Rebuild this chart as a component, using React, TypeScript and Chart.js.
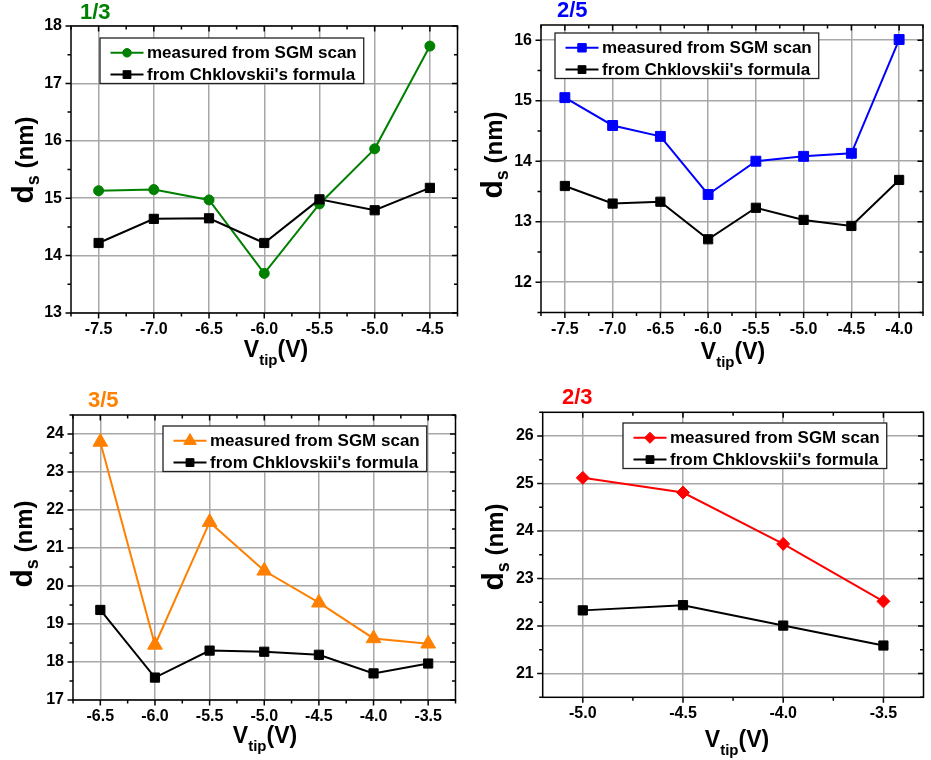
import React, { useEffect, useRef } from 'react';
import { Chart, registerables } from 'chart.js';

Chart.register(...registerables);

const FONT = '"Liberation Sans", Arial, Helvetica, sans-serif';

// ---------- data ----------
const legendMeasured = 'measured from SGM scan';
const legendFormula = "from Chklovskii's formula";

// Panel 1/3
const p1X = [-7.5, -7.0, -6.5, -6.0, -5.5, -5.0, -4.5];
const p1Measured = [15.13, 15.15, 14.97, 13.69, 14.9, 15.86, 17.65];
const p1Formula = [14.22, 14.64, 14.65, 14.22, 14.98, 14.79, 15.18];
const p1XTicks = [-7.5, -7.0, -6.5, -6.0, -5.5, -5.0, -4.5];
const p1YTicks = [13, 14, 15, 16, 17, 18];

// Panel 2/5
const p2X = [-7.5, -7.0, -6.5, -6.0, -5.5, -5.0, -4.5, -4.0];
const p2Measured = [15.05, 14.59, 14.41, 13.45, 14.0, 14.08, 14.13, 16.01];
const p2Formula = [13.59, 13.3, 13.33, 12.71, 13.23, 13.03, 12.93, 13.69];
const p2XTicks = [-7.5, -7.0, -6.5, -6.0, -5.5, -5.0, -4.5, -4.0];
const p2YTicks = [12, 13, 14, 15, 16];

// Panel 3/5
const p3X = [-6.5, -6.0, -5.5, -5.0, -4.5, -4.0, -3.5];
const p3Measured = [23.79, 18.45, 21.68, 20.4, 19.56, 18.62, 18.48];
const p3Formula = [19.37, 17.59, 18.3, 18.27, 18.19, 17.7, 17.96];
const p3XTicks = [-6.5, -6.0, -5.5, -5.0, -4.5, -4.0, -3.5];
const p3YTicks = [17, 18, 19, 20, 21, 22, 23, 24];

// Panel 2/3
const p4X = [-5.0, -4.5, -4.0, -3.5];
const p4Measured = [25.12, 24.81, 23.73, 22.52];
const p4Formula = [22.33, 22.44, 22.01, 21.59];
const p4XTicks = [-5.0, -4.5, -4.0, -3.5];
const p4YTicks = [21, 22, 23, 24, 25, 26];

// ---------- panel layout ----------
type PanelCfg = {
  key: string;
  left: number; top: number; w: number; h: number;
  area: { l: number; t: number; r: number; b: number };
  title: string; color: string; titleX: number; titleY: number;
  xMin: number; xMax: number; yMin: number; yMax: number;
  xTicks: number[]; yTicks: number[];
  xs: number[]; measured: number[]; formula: number[];
  marker: string; markerR: number;
  legendX: number; legendY: number;
  xTitleCx: number; xTitleY: number;
  yTitleX: number; yTitleCy: number;
};

const panels: PanelCfg[] = [
  {
    key: 'p1', left: 0, top: 0, w: 465, h: 380,
    area: { l: 71, t: 26, r: 460, b: 313 },
    title: '1/3', color: '#008000', titleX: 80, titleY: 18.5,
    xMin: -7.75, xMax: -4.25, yMin: 13, yMax: 18,
    xTicks: p1XTicks, yTicks: p1YTicks, xs: p1X, measured: p1Measured, formula: p1Formula,
    marker: 'circle', markerR: 5,
    legendX: 100, legendY: 38,
    xTitleCx: 276, xTitleY: 357, yTitleX: 33, yTitleCy: 160,
  },
  {
    key: 'p2', left: 465, top: 0, w: 466, h: 380,
    area: { l: 76, t: 25, r: 466, b: 312.5 },
    title: '2/5', color: '#0000ff', titleX: 92, titleY: 17,
    xMin: -7.75, xMax: -3.75, yMin: 11.5, yMax: 16.25,
    xTicks: p2XTicks, yTicks: p2YTicks, xs: p2X, measured: p2Measured, formula: p2Formula,
    marker: 'rect', markerR: 7,
    legendX: 90, legendY: 33,
    xTitleCx: 268, xTitleY: 358.5, yTitleX: 37, yTitleCy: 155,
  },
  {
    key: 'p3', left: 0, top: 380, w: 465, h: 380,
    area: { l: 73, t: 35, r: 460, b: 320 },
    title: '3/5', color: '#ff8000', titleX: 88, titleY: 27,
    xMin: -6.75, xMax: -3.25, yMin: 17, yMax: 24.5,
    xTicks: p3XTicks, yTicks: p3YTicks, xs: p3X, measured: p3Measured, formula: p3Formula,
    marker: 'triangle', markerR: 8.5,
    legendX: 163, legendY: 46,
    xTitleCx: 265, xTitleY: 363, yTitleX: 32, yTitleCy: 164,
  },
  {
    key: 'p4', left: 465, top: 380, w: 466, h: 380,
    area: { l: 77.7, t: 32.3, r: 466, b: 317.3 },
    title: '2/3', color: '#ff0000', titleX: 97, titleY: 23.5,
    xMin: -5.2, xMax: -3.3, yMin: 20.5, yMax: 26.5,
    xTicks: p4XTicks, yTicks: p4YTicks, xs: p4X, measured: p4Measured, formula: p4Formula,
    marker: 'rectRot', markerR: 6.5,
    legendX: 158, legendY: 43,
    xTitleCx: 272, xTitleY: 366.5, yTitleX: 38, yTitleCy: 167,
  },
];

const Y_AXIS_W = 50;
const X_AXIS_H = 45;

function drawMarker(ctx: CanvasRenderingContext2D, style: string, x: number, y: number, r: number) {
  ctx.beginPath();
  if (style === 'circle') {
    ctx.arc(x, y, r, 0, Math.PI * 2);
  } else if (style === 'rect') {
    const s = r * Math.SQRT1_2;
    ctx.rect(x - s, y - s, 2 * s, 2 * s);
  } else if (style === 'triangle') {
    ctx.moveTo(x, y - r);
    ctx.lineTo(x + r * Math.sin((2 * Math.PI) / 3), y - r * Math.cos((2 * Math.PI) / 3));
    ctx.lineTo(x + r * Math.sin((4 * Math.PI) / 3), y - r * Math.cos((4 * Math.PI) / 3));
    ctx.closePath();
  } else if (style === 'rectRot') {
    ctx.moveTo(x, y - r);
    ctx.lineTo(x + r, y);
    ctx.lineTo(x, y + r);
    ctx.lineTo(x - r, y);
    ctx.closePath();
  }
  ctx.fill();
  ctx.stroke();
}

function tickValues(majors: number[], min: number, max: number) {
  const step = majors[1] - majors[0];
  const half = step / 2;
  const out: { v: number; major: boolean }[] = [];
  let start = majors[0];
  while (start - half >= min - 1e-9) start -= half;
  for (let v = start; v <= max + 1e-9; v += half) {
    const k = (v - majors[0]) / step;
    const major = Math.abs(k - Math.round(k)) < 1e-6;
    out.push({ v, major });
  }
  return out;
}

const framePlugin = {
  id: 'frame',
  afterDraw(chart: any, _args: any, opts: any) {
    const { ctx, chartArea: a, scales } = chart;
    const xs = scales.x;
    const ys = scales.y;
    const cfg: PanelCfg = opts.cfg;
    ctx.save();

    // frame
    ctx.strokeStyle = '#000';
    ctx.lineWidth = 1.5;
    ctx.strokeRect(a.left, a.top, a.right - a.left, a.bottom - a.top);

    // ticks
    ctx.beginPath();
    for (const t of tickValues(cfg.xTicks, cfg.xMin, cfg.xMax)) {
      const px = xs.getPixelForValue(t.v);
      const len = t.major ? 5.5 : 3.5;
      ctx.moveTo(px, a.bottom);
      ctx.lineTo(px, a.bottom + len);
      ctx.moveTo(px, a.top);
      ctx.lineTo(px, a.top + len);
    }
    for (const t of tickValues(cfg.yTicks, cfg.yMin, cfg.yMax)) {
      const py = ys.getPixelForValue(t.v);
      const len = t.major ? 5.5 : 3.5;
      ctx.moveTo(a.left, py);
      ctx.lineTo(a.left - len, py);
      ctx.moveTo(a.right, py);
      ctx.lineTo(a.right - len, py);
    }
    ctx.stroke();

    // panel title
    ctx.fillStyle = cfg.color;
    ctx.font = `bold 22px ${FONT}`;
    ctx.textAlign = 'left';
    ctx.textBaseline = 'alphabetic';
    ctx.fillText(cfg.title, cfg.titleX, cfg.titleY);

    // x axis title: V_tip(V)
    ctx.fillStyle = '#000';
    const fBig = `bold 23px ${FONT}`;
    const fSub = `bold 15px ${FONT}`;
    ctx.font = fBig;
    const wV = ctx.measureText('V').width;
    const wP = ctx.measureText('(V)').width;
    ctx.font = fSub;
    const wT = ctx.measureText('tip').width;
    const total = wV + wT + wP;
    const x0 = cfg.xTitleCx - total / 2;
    ctx.font = fBig;
    ctx.fillText('V', x0, cfg.xTitleY);
    ctx.font = fSub;
    ctx.fillText('tip', x0 + wV, cfg.xTitleY + 8);
    ctx.font = fBig;
    ctx.fillText('(V)', x0 + wV + wT, cfg.xTitleY);

    // y axis title: d_s (nm), rotated
    ctx.save();
    ctx.translate(cfg.yTitleX, cfg.yTitleCy);
    ctx.rotate(-Math.PI / 2);
    const fD = `bold 30px ${FONT}`;
    const fS = `bold 18px ${FONT}`;
    const fN = `bold 24px ${FONT}`;
    ctx.font = fD;
    const wd = ctx.measureText('d').width;
    ctx.font = fS;
    const ws = ctx.measureText('s').width;
    ctx.font = fN;
    const wn = ctx.measureText(' (nm)').width;
    const tot2 = wd + ws + wn;
    const s0 = -tot2 / 2;
    ctx.font = fD;
    ctx.fillText('d', s0, 0);
    ctx.font = fS;
    ctx.fillText('s', s0 + wd, 6);
    ctx.font = fN;
    ctx.fillText(' (nm)', s0 + wd + ws, 0);
    ctx.restore();

    // legend box
    ctx.font = `bold 17px ${FONT}`;
    const dsets = chart.data.datasets;
    let maxW = 0;
    for (const d of dsets) maxW = Math.max(maxW, ctx.measureText(d.label).width);
    const bx = cfg.legendX;
    const by = cfg.legendY;
    const bw = 47 + maxW + 7;
    const bh = 45.5;
    ctx.fillStyle = '#fff';
    ctx.fillRect(bx, by, bw, bh);
    ctx.strokeStyle = '#222';
    ctx.lineWidth = 1.3;
    ctx.strokeRect(bx, by, bw, bh);
    const rows = [14.8, 36.6];
    dsets.forEach((d: any, i: number) => {
      const ry = by + rows[i];
      ctx.strokeStyle = d.borderColor;
      ctx.lineWidth = 2;
      ctx.beginPath();
      ctx.moveTo(bx + 10.5, ry);
      ctx.lineTo(bx + 43.5, ry);
      ctx.stroke();
      ctx.fillStyle = d.pointBackgroundColor;
      ctx.strokeStyle = d.pointBorderColor;
      ctx.lineWidth = 1;
      drawMarker(ctx, d.pointStyle, bx + 27, ry, d.pointRadius * 0.85);
      ctx.fillStyle = '#000';
      ctx.textBaseline = 'middle';
      ctx.fillText(d.label, bx + 47, ry + 1);
    });

    ctx.restore();
  },
};

function Panel({ cfg }: { cfg: PanelCfg }) {
  const ref = useRef<HTMLCanvasElement | null>(null);
  useEffect(() => {
    if (!ref.current) return;
    const tickFont = { family: FONT, size: 16, weight: 'bold' as const };
    const chart = new Chart(ref.current, {
      type: 'line',
      data: {
        datasets: [
          {
            label: legendMeasured,
            data: cfg.xs.map((x, i) => ({ x, y: cfg.measured[i] })),
            borderColor: cfg.color,
            backgroundColor: cfg.color,
            pointBackgroundColor: cfg.color,
            pointBorderColor: cfg.color,
            borderWidth: 2,
            pointStyle: cfg.marker as any,
            pointRadius: cfg.markerR,
            pointBorderWidth: 1,
            tension: 0,
            order: 1,
          },
          {
            label: legendFormula,
            data: cfg.xs.map((x, i) => ({ x, y: cfg.formula[i] })),
            borderColor: '#000',
            backgroundColor: '#000',
            pointBackgroundColor: '#000',
            pointBorderColor: '#000',
            borderWidth: 2,
            pointStyle: 'rect',
            pointRadius: 6.5,
            pointBorderWidth: 1,
            tension: 0,
            order: 0,
          },
        ],
      },
      options: {
        responsive: false,
        animation: false,
        devicePixelRatio: 1,
        layout: {
          padding: {
            left: cfg.area.l - Y_AXIS_W,
            top: cfg.area.t,
            right: cfg.w - cfg.area.r,
            bottom: cfg.h - cfg.area.b - X_AXIS_H,
          },
        },
        plugins: {
          legend: { display: false },
          tooltip: { enabled: false },
          title: { display: false },
          frame: { cfg },
        } as any,
        scales: {
          x: {
            type: 'linear',
            min: cfg.xMin,
            max: cfg.xMax,
            afterBuildTicks: (s: any) => {
              s.ticks = cfg.xTicks.map((v) => ({ value: v }));
            },
            afterFit: (s: any) => {
              s.height = X_AXIS_H;
            },
            ticks: {
              callback: (v: any) => Number(v).toFixed(1),
              font: tickFont,
              color: '#000',
              padding: 7,
              maxRotation: 0,
              autoSkip: false,
            },
            grid: { color: '#a8a8a8', lineWidth: 1.5, drawTicks: false },
            border: { display: false },
          },
          y: {
            type: 'linear',
            min: cfg.yMin,
            max: cfg.yMax,
            afterBuildTicks: (s: any) => {
              s.ticks = cfg.yTicks.map((v) => ({ value: v }));
            },
            afterFit: (s: any) => {
              s.width = Y_AXIS_W;
            },
            ticks: {
              callback: (v: any) => String(v),
              font: tickFont,
              color: '#000',
              padding: 9,
              autoSkip: false,
            },
            grid: { color: '#a8a8a8', lineWidth: 1.5, drawTicks: false },
            border: { display: false },
          },
        },
      },
      plugins: [framePlugin as any],
    });
    return () => chart.destroy();
  }, [cfg]);
  return (
    <canvas
      ref={ref}
      width={cfg.w}
      height={cfg.h}
      style={{ position: 'absolute', left: cfg.left, top: cfg.top, width: cfg.w, height: cfg.h }}
    />
  );
}

export default function App() {
  return (
    <div style={{ position: 'absolute', left: 0, top: 0, width: 931, height: 760, background: '#fff', overflow: 'hidden' }}>
      {panels.map((p) => (
        <Panel key={p.key} cfg={p} />
      ))}
    </div>
  );
}
